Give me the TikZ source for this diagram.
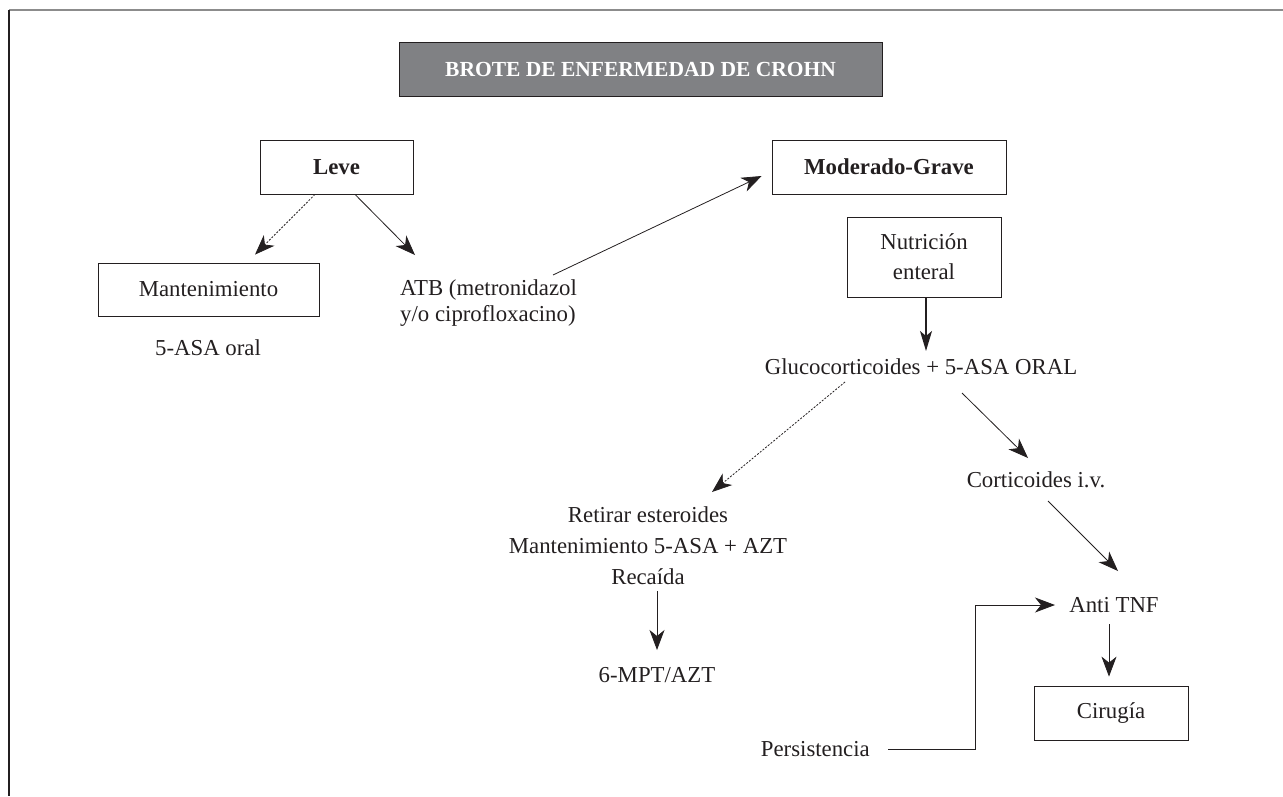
\documentclass[tikz,border=0pt]{standalone}
\usepackage{fontspec}
\setmainfont{Liberation Serif}
\usetikzlibrary{arrows.meta,calc}
\definecolor{ink}{HTML}{231F20}
\definecolor{titlegray}{HTML}{808184}
\definecolor{framegray}{HTML}{8C8C8C}
\begin{document}
\begin{tikzpicture}[x=1pt,y=-1pt,
  every node/.style={font=\fontsize{22.8}{26}\selectfont, text=ink},
  boxnode/.style={draw=ink, line width=0.8pt, minimum height=54pt, inner sep=0pt},
  txt/.style={inner sep=1pt},
  arr/.style={draw=ink, line width=0.8pt, -{Stealth[length=20pt,width=15pt,inset=6pt]}},
  darr/.style={arr, dash pattern=on 2pt off 1.5pt},
]
\useasboundingbox (0,0) rectangle (1283,796);
\draw[framegray, line width=2pt] (9,10) -- (1283,10);
\draw[ink, line width=1.5pt] (9,10) -- (9,796);

% boxes
\node[boxnode, fill=titlegray, minimum width=483pt, text=white, font=\fontsize{21.5}{24}\selectfont\bfseries] (title) at (640.5,69) {BROTE DE ENFERMEDAD DE CROHN};
\node[boxnode, minimum width=153pt, font=\fontsize{22.8}{26}\selectfont\bfseries] (leve) at (336.5,167) {Leve};
\node[boxnode, minimum width=221pt, minimum height=53pt] (mant) at (208.5,289.5) {Mantenimiento};
\node[boxnode, minimum width=234pt, font=\fontsize{22.8}{26}\selectfont\bfseries] (mod) at (889,167) {Moderado-Grave};
\node[boxnode, minimum width=154pt, minimum height=80pt, align=center, font=\fontsize{22.8}{30}\selectfont] (nutr) at (924,257) {Nutrición\\enteral};
\node[boxnode, minimum width=154pt] (cir) at (1111,713) {Cirugía};

% texts
\node[txt] (asa) at (208,348) {5-ASA oral};
\node[txt, anchor=west, align=left] (atb) at (399,303) {ATB (metronidazol\\y/o ciprofloxacino)};
\node[txt] (gluco) at (921,367) {Glucocorticoides + 5-ASA ORAL};
\node[txt] (cortiv) at (1036,480) {Corticoides i.v.};
\node[txt] (anti) at (1114,605) {Anti TNF};
\node[txt, align=center, font=\fontsize{22.8}{31}\selectfont] (ret) at (648,546) {Retirar esteroides\\Mantenimiento 5-ASA + AZT\\Recaída};
\node[txt] (mpt) at (657,675) {6-MPT/AZT};
\node[txt, anchor=east] (pers) at (871,749) {Persistencia};

% connectors
\draw[darr] ($(leve.south)+(-21.5,0)$) -- ($(mant.north)+(46.5,-8)$);
\draw[arr] ($(leve.south)+(18.5,0)$) -- ($(atb.west)+(16,-48)$);
\draw[arr] ($(atb.west)+(154,-28)$) -- ($(mod.west)+(-10,9)$);
\draw[arr, line width=1.4pt, -{Stealth[length=20pt,width=12pt,inset=5pt]}] ($(nutr.south)+(2,0)$) -- ($(gluco)+(5,-16)$);
\draw[darr] ($(gluco)+(-76,15)$) -- ($(ret)+(64,-54)$);
\draw[arr] ($(gluco)+(41,26)$) -- ($(cortiv)+(-8,-22)$);
\draw[arr] ($(cortiv)+(12,21)$) -- ($(anti)+(4,-34)$);
\draw[arr] ($(anti)+(-5,19)$) -- ($(cir.north)+(-2,-9)$);
\draw[arr] ($(ret)+(9,45)$) -- ($(mpt)+(0,-25)$);
\draw[arr] ($(pers.east)+(17,0)$) -| ($(anti)+(-139,0)$) -- ($(anti)+(-59,0)$);
\end{tikzpicture}
\end{document}
